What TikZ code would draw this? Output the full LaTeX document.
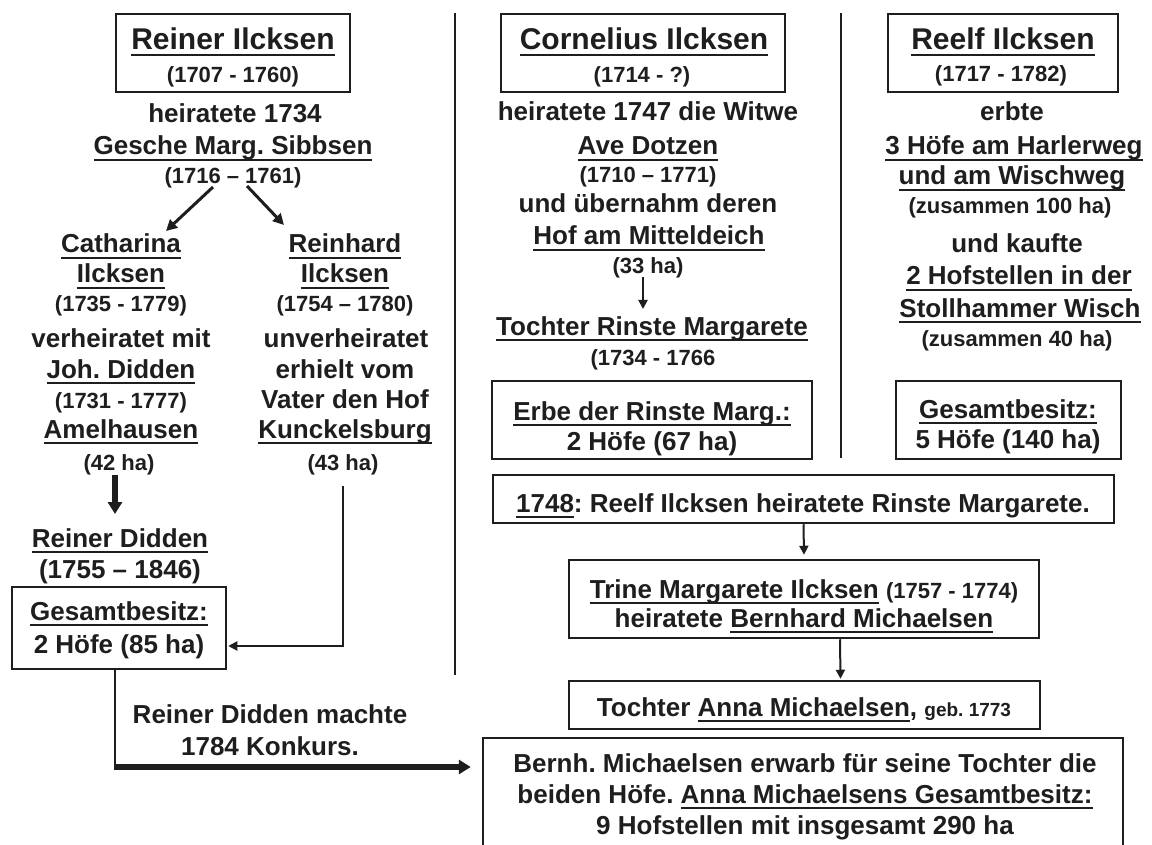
\documentclass[tikz,border=0pt]{standalone}
\usepackage{fontspec}
\setmainfont{Liberation Sans}
\usetikzlibrary{arrows.meta}
\frenchspacing
\newsavebox\ulbox
\newcommand\ulin[1]{\sbox\ulbox{#1}\rlap{\usebox\ulbox}\rule[-6pt]{\wd\ulbox}{2.4pt}}
\newcommand\fmain{\fontsize{26}{31}\selectfont\bfseries}
\newcommand\fnm{\fontsize{30}{34}\selectfont\bfseries}
\newcommand\fdt{\fontsize{22}{26}\selectfont\bfseries}
\newcommand\fsm{\fontsize{19}{22}\selectfont\bfseries}
\definecolor{ink}{HTML}{1E1E1E}
\begin{document}
\begin{tikzpicture}[x=1pt,y=-1pt,
  tx/.style={inner sep=0pt, anchor=base, text=ink, font=\fmain},
  nm/.style={inner sep=0pt, anchor=base, text=ink, font=\fnm},
  dt/.style={inner sep=0pt, anchor=base, text=ink, font=\fdt},
  bx/.style={draw=ink, line width=2.5pt, inner sep=0pt, minimum width=#1},
  bx/.default=100pt,
  sep/.style={draw=ink, line width=2.5pt},
  arr/.style={draw=ink, line width=2pt, -{Triangle[length=9pt,width=9pt]}},
  tharr/.style={draw=ink, line width=3pt, -{Triangle[length=11pt,width=11pt]}},
  fatarr/.style={draw=ink, line width=5.5pt, -{Triangle[length=12pt,width=14pt]}},
  ln/.style={draw=ink, line width=2pt}]
\useasboundingbox (0,0) rectangle (1152,845);
\clip (0,0) rectangle (1152,845);
\fill[white] (0,0) rectangle (1152,845);

% separators
\draw[sep] (455,13) -- (455,675);
\draw[sep] (841,13) -- (841,458);

% boxes
\node[bx=234pt, minimum height=78pt] (bR) at (233,53) {};
\node[bx=284pt, minimum height=78pt] (bC) at (643,53) {};
\node[bx=230pt, minimum height=78pt] (bF) at (1003,53) {};
\node[bx=214pt, minimum height=82pt] (bG1) at (119,628) {};
\node[bx=320pt, minimum height=78pt] (bE) at (652,420) {};
\node[bx=225pt, minimum height=78pt] (bG2) at (1008.5,420) {};
\node[bx=621pt, minimum height=48pt] (b1748) at (803.5,499) {};
\node[bx=470pt, minimum height=78pt] (bT) at (804,599) {};
\node[bx=471pt, minimum height=48pt] (bA) at (804.5,705) {};
\node[bx=640pt, minimum height=120pt] (bB) at (803,798) {};

% column Reiner
\node[nm] (rname) at (233,50) {\ulin{Reiner Ilcksen}};
\node[dt] (rdate) at (233,83) {(1707 - 1760)};
\node[tx] (rhei) at (235,123) {heiratete 1734};
\node[tx] (gesche) at (233,155) {\ulin{Gesche Marg. Sibbsen}};
\node[dt] (gdate) at (233,184) {(1716 – 1761)};

% Catharina
\node[tx] (cat1) at (121,253) {\ulin{Catharina}};
\node[tx] (cat2) at (121,283) {\ulin{Ilcksen}};
\node[dt] (cat3) at (121,312) {(1735 - 1779)};
\node[tx] (cat4) at (121,347) {verheiratet mit};
\node[tx] (cat5) at (121,378) {\ulin{Joh. Didden}};
\node[dt] (cat6) at (121,408) {(1731 - 1777)};
\node[tx] (cat7) at (121,438) {\ulin{Amelhausen}};
\node[dt] (cat8) at (119,470) {(42 ha)};

% Reinhard
\node[tx] (rei1) at (345,253) {\ulin{Reinhard}};
\node[tx] (rei2) at (345,283) {\ulin{Ilcksen}};
\node[dt] (rei3) at (345,312) {(1754 – 1780)};
\node[tx] (rei4) at (346,347) {unverheiratet};
\node[tx] (rei5) at (345,378) {erhielt vom};
\node[tx] (rei6) at (345,408) {Vater den Hof};
\node[tx] (rei7) at (345,438) {\ulin{Kunckelsburg}};
\node[dt] (rei8) at (343,470) {(43 ha)};

% Reiner Didden
\node[tx] (rd1) at (120,547) {\ulin{Reiner Didden}};
\node[tx] (rd2) at (120,578) {(1755 – 1846)};
\node[tx] (g1a) at (119,620) {\ulin{Gesamtbesitz:}};
\node[tx] (g1b) at (119,653) {2 Höfe (85 ha)};
\node[tx] (kk1) at (270,723) {Reiner Didden machte};
\node[tx] (kk2) at (270,755) {1784 Konkurs.};

% Cornelius
\node[nm] (cname) at (644,50) {\ulin{Cornelius Ilcksen}};
\node[dt] (cdate) at (642,83) {(1714 - ?)};
\node[tx] (c1) at (648,121) {heiratete 1747 die Witwe};
\node[tx] (c2) at (648,155) {\ulin{Ave Dotzen}};
\node[dt] (c3) at (648,183) {(1710 – 1771)};
\node[tx] (c4) at (648,213) {und übernahm deren};
\node[tx] (c5) at (649,245) {\ulin{Hof am Mitteldeich}};
\node[dt] (c6) at (648,273) {(33 ha)};
\node[tx] (c7) at (652,335) {\ulin{Tochter Rinste Margarete}};
\node[dt] (c8) at (653,365) {(1734 - 1766};
\node[tx] (e1) at (652,420) {\ulin{Erbe der Rinste Marg.:}};
\node[tx] (e2) at (652,450) {2 Höfe (67 ha)};

% Reelf
\node[nm] (fname) at (1003,50) {\ulin{Reelf Ilcksen}};
\node[dt] (fdate) at (1001,82) {(1717 - 1782)};
\node[tx] (f1) at (1012,121) {erbte};
\node[tx] (f2) at (1014,155) {\ulin{3 Höfe am Harlerweg}};
\node[tx] (f3) at (1012,185) {\ulin{und am Wischweg}};
\node[dt] (f4) at (1010,214) {(zusammen 100 ha)};
\node[tx] (f5) at (1017,253) {und kaufte};
\node[tx] (f6) at (1019,285) {\ulin{2 Hofstellen in der}};
\node[tx] (f7) at (1020,317) {\ulin{Stollhammer Wisch}};
\node[dt] (f8) at (1017,346) {(zusammen 40 ha)};
\node[tx] (g2a) at (1008,418) {\ulin{Gesamtbesitz:}};
\node[tx] (g2b) at (1008,448) {5 Höfe (140 ha)};

% lower right
\node[tx] (t1748) at (803,512) {\ulin{1748}: Reelf Ilcksen heiratete Rinste Margarete.};
\node[tx] (tr1) at (804,598) {\ulin{Trine Margarete Ilcksen} {\fdt (1757 - 1774)}};
\node[tx] (tr2) at (804,627) {heiratete \ulin{Bernhard Michaelsen}};
\node[tx] (an1) at (804,716) {Tochter \ulin{Anna Michaelsen}, {\fsm geb. 1773}};
\node[tx] (bb1) at (805,772) {Bernh. Michaelsen erwarb für seine Tochter die};
\node[tx] (bb2) at (805,803) {beiden Höfe. \ulin{Anna Michaelsens Gesamtbesitz:}};
\node[tx] (bb3) at (805,834) {9 Hofstellen mit insgesamt 290 ha};

% connectors
\coordinate (a1s) at (213,187);
\coordinate (a1e) at (166,231);
\coordinate (a2s) at (247,186);
\coordinate (a2e) at (284,225);
\draw[tharr] (a1s) -- (a1e);
\draw[tharr] (a2s) -- (a2e);

\coordinate (d1s) at (115,475);
\coordinate (d1e) at (115,514);
\draw[fatarr] (d1s) -- (d1e);

\coordinate (k43) at (343,486);
\draw[arr] (k43) |- ([yshift=-18pt,xshift=1pt]bG1.east);

\coordinate (kcorner) at (115,767);
\draw[ln] ([xshift=-4pt]bG1.south) -- (kcorner);
\draw[fatarr] ([xshift=-1.5pt]kcorner) -- ([xshift=-11pt]bB.west |- kcorner);

\coordinate (c33s) at (643,277);
\coordinate (c33e) at (643,309);
\draw[arr] (c33s) -- (c33e);

\draw[arr] (b1748.south) -- ([yshift=4pt]bT.north);
\draw[arr] ([xshift=36pt]bT.south) -- ([xshift=36pt,yshift=1pt]bA.north);
\end{tikzpicture}
\end{document}
